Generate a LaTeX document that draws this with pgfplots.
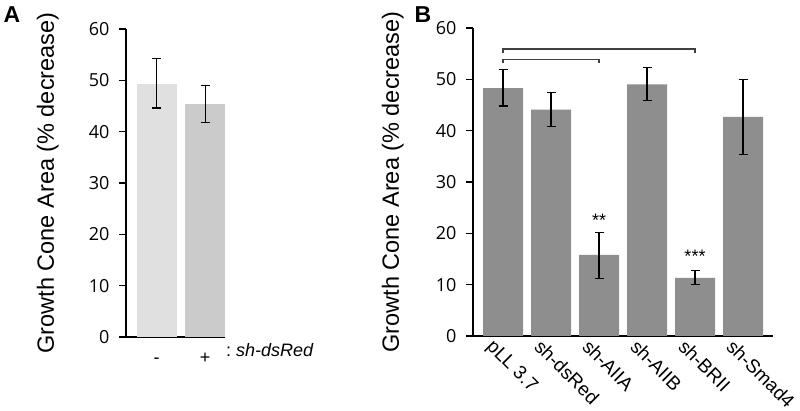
\documentclass[border=0pt]{standalone}
\usepackage{pgfplots}
\pgfplotsset{compat=1.18}
\usepackage{fontspec}
\setmainfont{Liberation Sans}
\newfontfamily\tickfont{Open Sans}
\definecolor{barA1}{HTML}{E0E0E0}
\definecolor{barA2}{HTML}{CBCBCB}
\definecolor{barB}{HTML}{8E8E8E}
\definecolor{brk}{HTML}{404040}
\pgfplotsset{
  common/.style={
    scale only axis, anchor=south west,
    ymin=0, ymax=60, ytick={0,10,...,60},
    axis x line*=bottom, axis y line*=left,
    axis line style={line width=1.2pt, black},
    tick align=outside,
    ytick style={line width=1.2pt, black},
    major tick length=7pt,
    xtick style={draw=none},
    /pgf/number format/assume math mode=true,
    yticklabel style={font=\tickfont\fontsize{18}{19}\selectfont, xshift=-6pt},
    ylabel={Growth Cone Area (\% decrease)},
    ylabel style={font=\fontsize{23.5}{24}\selectfont, anchor=center},
    clip=false,
    error bars/y dir=both, error bars/y explicit,
    error bars/error bar style={line width=1.1pt, black},
    error bars/error mark options={rotate=90, mark size=4.5pt, line width=1.1pt, black},
  }
}
\begin{document}
\begin{tikzpicture}[x=1pt,y=1pt]
\useasboundingbox (0,0) rectangle (800,411);
\node[font=\bfseries\fontsize{23}{23}\selectfont] at (12,396) {A};
\node[font=\bfseries\fontsize{23}{23}\selectfont] at (423,396) {B};
% Panel A
\begin{axis}[common,
  at={(126pt,74pt)}, width=99pt, height=308pt,
  xmin=0.371, xmax=2.41,
  xtick={1,2}, xticklabels={-,+},
  xticklabel style={font=\fontsize{18}{19}\selectfont, anchor=base, yshift=-20pt},
  ylabel style={at={(axis description cs:-0.79,0.5)}},
]
\addplot[ybar, bar width=40pt, fill=barA1, draw=none]
  coordinates {(1,49.3) += (0,4.9) -= (0,4.7)};
\addplot[ybar, bar width=40pt, fill=barA2, draw=none]
  coordinates {(2,45.3) += (0,3.7) -= (0,3.5)};
\node[anchor=base west, font=\fontsize{18}{19}\selectfont, inner sep=0pt, xshift=1pt, yshift=-20pt]
  at (rel axis cs:1,0) {:~\textit{sh-dsRed}};
\end{axis}
% Panel B
\begin{axis}[common,
  at={(473pt,75pt)}, width=300pt, height=308pt,
  xmin=-0.625, xmax=5.625,
  xtick={0,1,2,3,4,5},
  xticklabels={pLL 3.7, sh-dsRed, sh-AIIA, sh-AIIB, sh-BRII, sh-Smad4},
  xticklabel style={font=\fontsize{19}{20}\selectfont, rotate=-45, anchor=north west, inner sep=0pt, xshift=-9pt, yshift=-2pt},
  ylabel style={at={(axis description cs:-0.267,0.5)}},
]
\addplot[ybar, bar width=40pt, fill=barB, draw=none]
  coordinates {
    (0,48.3) += (0,3.6) -= (0,3.5)
    (1,44.1) += (0,3.4) -= (0,3.3)
    (2,15.8) += (0,4.4) -= (0,4.6)
    (3,49.0) += (0,3.3) -= (0,3.1)
    (4,11.3) += (0,1.5) -= (0,1.3)
    (5,42.7) += (0,7.3) -= (0,7.3)
  };
\addplot[brk, line width=1.2pt, sharp plot, mark=none, forget plot, error bars/y dir=none]
  coordinates {(0,55.1) (0,55.9) (4,55.9) (4,55.1)};
\addplot[brk, line width=1.2pt, sharp plot, mark=none, forget plot, error bars/y dir=none]
  coordinates {(0,53.1) (0,53.9) (2,53.9) (2,53.1)};
\node[font=\fontsize{18}{18}\selectfont] at (axis cs:2,22.6) {**};
\node[font=\fontsize{18}{18}\selectfont] at (axis cs:4,15.6) {***};
\end{axis}
\end{tikzpicture}
\end{document}
